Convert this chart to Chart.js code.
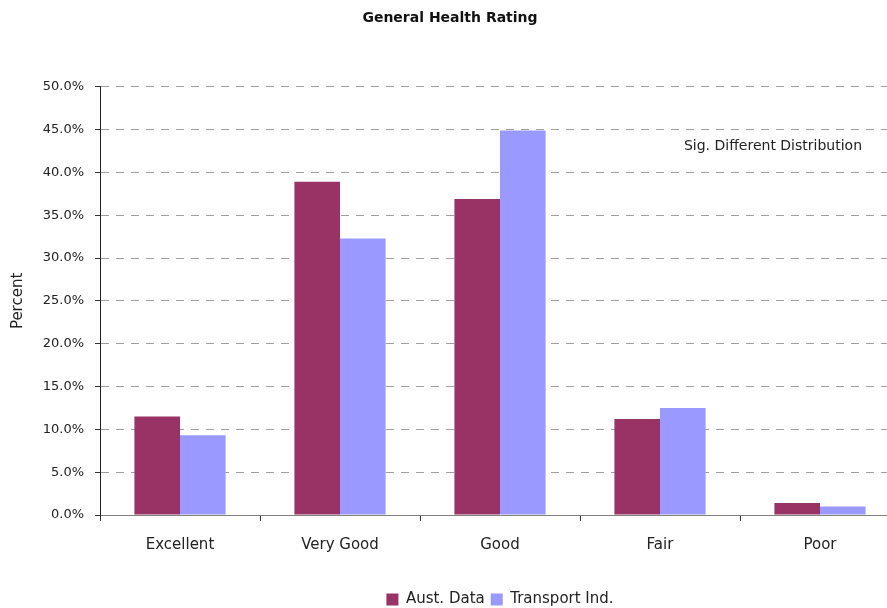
<!DOCTYPE html>
<html>
<head>
<meta charset="utf-8">
<script src="https://cdn.jsdelivr.net/npm/chart.js@4"></script>
<style>
  html, body { margin: 0; padding: 0; background: #fff; overflow: hidden; }
  #wrap { width: 900px; height: 608px; }
</style>
</head>
<body>
<div id="wrap"><canvas id="chartSalud" width="900" height="608"></canvas></div>
<script>
/* Datos */
const categorias    = ['Excellent', 'Very Good', 'Good', 'Fair', 'Poor'];
const austData      = [11.5, 38.9, 36.9, 11.2, 1.4];
const transportInd  = [9.3, 32.3, 44.9, 12.5, 1.0];
const serieNombres  = ['Aust. Data', 'Transport Ind.'];
const yTicks        = [0, 5, 10, 15, 20, 25, 30, 35, 40, 45, 50];
const notaTexto     = 'Sig. Different Distribution';

const FUENTE = 'DejaVu Sans';

// Texto de anotación arriba a la derecha
const notaPlugin = {
  id: 'nota',
  afterDraw(chart) {
    const { ctx, chartArea, scales } = chart;
    ctx.save();
    ctx.font = '14px "' + FUENTE + '"';
    ctx.fillStyle = '#222';
    ctx.textAlign = 'right';
    ctx.textBaseline = 'middle';
    ctx.fillText(notaTexto, chartArea.right - 38, scales.y.getPixelForValue(43.0));
    ctx.restore();
  }
};

new Chart(document.getElementById('chartSalud'), {
  type: 'bar',
  data: {
    labels: categorias,
    datasets: [
      { label: serieNombres[0], data: austData,     backgroundColor: '#993366' },
      { label: serieNombres[1], data: transportInd, backgroundColor: '#9999FF' },
    ]
  },
  options: {
    responsive: false,
    animation: false,
    layout: { padding: { bottom: -9 } },
    datasets: {
      bar: { categoryPercentage: 0.57, barPercentage: 1.0, borderWidth: 0 }
    },
    scales: {
      x: {
        grid: {
          offset: true,
          drawOnChartArea: false,
          drawTicks: true,
          tickLength: 6,
          tickColor: '#333',
        },
        border: { color: '#808080', width: 1 },
        ticks: {
          color: '#222',
          padding: 15,
          font: { family: FUENTE, size: 15 },
        },
        afterFit(scale) { scale.height = 71; },
      },
      y: {
        min: 0,
        max: 50,
        afterBuildTicks(scale) { scale.ticks = yTicks.map(v => ({ value: v })); },
        afterFit(scale) { scale.width = 100; },
        grid: {
          color: '#a0a0a0',
          tickLength: 5,
          tickColor: '#333',
          tickBorderDash: [],
        },
        border: { color: '#222', width: 1, dash: [8, 7] },
        ticks: {
          color: '#222',
          padding: 11,
          font: { family: FUENTE, size: 13 },
          callback: v => v.toFixed(1) + '%',
        },
        title: {
          display: true,
          text: 'Percent',
          color: '#222',
          padding: { top: 9, bottom: 0 },
          font: { family: FUENTE, size: 15 },
        },
      },
    },
    plugins: {
      title: {
        display: true,
        text: 'General Health Rating',
        color: '#111',
        font: { family: FUENTE, size: 14, weight: 'bold' },
        padding: { top: 10, bottom: 60 },
      },
      legend: {
        position: 'bottom',
        fullSize: false,
        labels: {
          color: '#222',
          boxWidth: 12,
          boxHeight: 12,
          padding: 6,
          font: { family: FUENTE, size: 15 },
        },
      },
      tooltip: { enabled: false },
    },
  },
  plugins: [notaPlugin],
});
</script>
</body>
</html>
